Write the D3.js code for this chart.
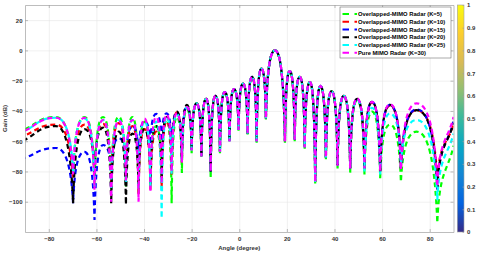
<!DOCTYPE html>
<html>
<head>
<meta charset="utf-8">
<script src="https://cdn.jsdelivr.net/npm/d3@7"></script>
<style>
  body { margin: 0; background: #fff; }
  svg { display: block; font-family: "Liberation Sans", Arial, sans-serif; }
</style>
</head>
<body>
<div id="chart-area"></div>
<script>
// angles of the lobe peaks / nulls (degree)
var angles = [-90,-77,-69.8,-65,-60.8,-57.2,-53.8,-50.6,-47.6,-44.9,-42.3,-39.8,-37.3,-34.9,-32.6,-30.5,-28.4,-26.2,-24.1,-22,
  -20,-17.9,-15.9,-13.9,-12,-10,-8.1,-6.1,-4.1,-2.2,-0.3,1.6,3.5,5.4,7.3,9.3,11.2,15,19.2,21.2,
  23.3,25.4,27.5,29.7,31.9,34.1,36.4,38.8,41.3,43.9,46.6,49.5,52.6,55.8,59.2,63.3,67.9,74.5,83.2,90];

// gain (dB) at those angles, one array per curve
var gainK5 = [-52,-44,-84,-44,-88,-44,-92,-43.8,-90,-44, -95,-47,-90,-50,-88,-46,-101,-44,-81,-39,
  -68,-35,-70,-32,-84.5,-30,-68,-27.5,-61,-25.5, -53,-22,-56,-17.5,-62,-12,-46,0,-61,-13.6,
  -60,-17.4,-65,-21,-88,-23.5,-73,-27,-78,-30.5, -81,-33,-82,-40.5,-84.5,-49,-87,-53.7,-114,-63];
var gainK10 = [-56,-49,-88,-49,-85,-48.5,-90,-48,-88,-50, -95,-52,-92,-53.7,-90,-47,-82,-41,-74,-37,
  -66,-35,-70,-32,-80,-30,-67,-27.5,-60,-25.5, -52.6,-22,-55,-17.5,-60,-12,-45,0,-60,-13.6,
  -59,-17.4,-64,-21,-87,-23.5,-71,-27,-76,-30, -78,-32,-78,-34.5,-80,-36.5,-78,-39.5,-86,-49];
var gainK15 = [-71,-64.5,-101,-67,-112,-62.5,-80,-58,-75,-50, -70,-47,-62,-42,-60,-41.6,-65,-41,-72,-37,
  -66,-35,-70,-32,-80,-30,-67,-27.5,-60,-25.5, -52.6,-22,-55,-17.5,-60,-12,-45,0,-60,-13.6,
  -59,-17.4,-64,-21,-87,-23.5,-71,-27,-76,-30, -78,-32,-78,-34,-80,-36,-78,-39,-92,-47];
var gainK20 = [-59,-50,-101,-52,-82,-51,-101,-53.7,-102,-55, -90,-52,-88,-50,-86,-44,-78,-40.5,-72,-36,
  -66,-35,-70,-32,-80,-30,-67,-27.5,-60,-25.5, -52.6,-22,-55,-17.5,-60,-12,-45,0,-60,-13.6,
  -59,-17.4,-64,-21,-87,-23.5,-71,-27,-76,-30, -78,-32,-78,-34,-80,-36,-78,-39.5,-91,-48];
var gainK25 = [-53,-44.5,-80,-45,-90,-46,-95,-46,-88,-46, -92,-47,-90,-47,-111,-44,-82,-42,-74,-37.5,
  -66,-35,-70,-32,-80,-30,-67,-27.5,-60,-25.5, -52.6,-22,-55,-17.5,-60,-12,-45,0,-60,-13.6,
  -59,-17.4,-64,-21,-87,-23.5,-71,-27,-76,-30, -78,-32.5,-80,-38,-82,-41.6,-75,-46,-99,-55];
var gainK30 = [-53,-44.5,-82,-44.5,-92,-46,-100,-46.5,-86,-46, -100,-45,-94,-44,-88,-42.5,-80,-41.5,-74,-37.5,
  -66,-35,-70,-32,-80,-30,-67,-27.5,-60,-25.5, -52.6,-22,-55,-17.5,-60,-12,-45,0,-60,-13.6,
  -59,-17.4,-64,-21,-87,-23.5,-71,-27,-76,-30, -78,-31.7,-78,-34,-80,-35.5,-79,-35,-90,-44];

var seriesNames = ["Overlapped-MIMO Radar (K=5)", "Overlapped-MIMO Radar (K=10)", "Overlapped-MIMO Radar (K=15)",
  "Overlapped-MIMO Radar (K=20)", "Overlapped-MIMO Radar (K=25)", "Pure MIMO Radar (K=30)"];
var seriesGains = [gainK5, gainK10, gainK15, gainK20, gainK25, gainK30];
var seriesColors = ["#00ff00", "#ff0000", "#0000ff", "#000000", "#00ffff", "#ff00ff"];
var dashOffsets = [0, -2, -4, -6, -4.5, 0];

var xTicks = [-80,-60,-40,-20,0,20,40,60,80];
var yTicks = [-100,-80,-60,-40,-20,0,20];
var cbTicks = [0,0.1,0.2,0.3,0.4,0.5,0.6,0.7,0.8,0.9,1];
// parula colormap stops
var parula = ["#352a87","#0363e1","#1485d4","#06a7c6","#38b99e","#92bf73","#d9ba56","#fcce2e","#f9fb0e"];

var W = 480, H = 253;
var pL = 25, pR = 453.5, pT = 5, pB = 232;

var svg = d3.select("#chart-area").append("svg")
  .attr("width", W).attr("height", H);
svg.append("rect").attr("width", W).attr("height", H).attr("fill", "#fff");

var x = d3.scaleLinear().domain([-90, 90]).range([pL, pR]);
var y = d3.scaleLinear().domain([-120, 30]).range([pB, pT]);

// grid
svg.append("g").attr("transform", "translate(0," + pB + ")")
  .call(d3.axisBottom(x).tickValues(xTicks).tickSize(-(pB - pT)).tickFormat(""))
  .call(function(g){ g.select(".domain").remove(); g.selectAll("line").attr("stroke", "#e6e6e6").attr("stroke-width", 0.6); });
svg.append("g").attr("transform", "translate(" + pL + ",0)")
  .call(d3.axisLeft(y).tickValues(yTicks).tickSize(-(pR - pL)).tickFormat(""))
  .call(function(g){ g.select(".domain").remove(); g.selectAll("line").attr("stroke", "#e6e6e6").attr("stroke-width", 0.6); });

// lobe shaped curve: steep at nulls, flat at peaks
function curveArch(context) {
  var pts;
  return {
    areaStart: function(){}, areaEnd: function(){},
    lineStart: function(){ pts = []; },
    point: function(px, py){ pts.push([+px, +py]); },
    lineEnd: function(){
      var n = pts.length;
      if (!n) return;
      function kind(i) {
        if (i === 0 || i === n - 1) return "end";
        var p = pts[i-1], c = pts[i], q = pts[i+1];
        if (c[1] >= p[1] && c[1] >= q[1]) return "null";
        if (c[1] <= p[1] && c[1] <= q[1]) return "peak";
        return "mid";
      }
      context.moveTo(pts[0][0], pts[0][1]);
      for (var i = 0; i < n - 1; i++) {
        var a = pts[i], b = pts[i+1], dx = b[0]-a[0], dy = b[1]-a[1];
        var ka = kind(i), kb = kind(i+1), c1, c2;
        if (ka === "peak") c1 = [a[0] + 0.55*dx, a[1]];
        else if (ka === "null") c1 = [a[0] + 0.12*dx, a[1] + 0.7*dy];
        else c1 = [a[0] + dx/3, a[1] + dy/3];
        if (kb === "peak") c2 = [b[0] - 0.55*dx, b[1]];
        else if (kb === "null") c2 = [b[0] - 0.12*dx, b[1] - 0.7*dy];
        else c2 = [b[0] - dx/3, b[1] - dy/3];
        context.bezierCurveTo(c1[0], c1[1], c2[0], c2[1], b[0], b[1]);
      }
    }
  };
}

svg.append("clipPath").attr("id", "clip").append("rect")
  .attr("x", pL).attr("y", pT).attr("width", pR - pL).attr("height", pB - pT);

var line = d3.line()
  .x(function(d){ return x(d[0]); })
  .y(function(d){ return y(d[1]); })
  .curve(curveArch);

var plot = svg.append("g").attr("clip-path", "url(#clip)");
seriesGains.forEach(function(g, i){
  plot.append("path")
    .datum(angles.map(function(a, j){ return [a, g[j]]; }))
    .attr("d", line)
    .attr("fill", "none")
    .attr("stroke", seriesColors[i])
    .attr("stroke-width", 2.2)
    .attr("stroke-dasharray", "5,3.5")
    .attr("stroke-dashoffset", dashOffsets[i]);
});

// axes box with inward ticks
var axisColor = "#a0a0a0";
function styleAxis(g) {
  g.select(".domain").attr("stroke", axisColor).attr("stroke-width", 0.7);
  g.selectAll(".tick line").attr("stroke", axisColor).attr("stroke-width", 0.7);
  g.selectAll("text").attr("fill", "#333").attr("font-size", "6px").attr("font-weight", "bold");
}
svg.append("g").attr("transform", "translate(0," + pB + ")")
  .call(d3.axisBottom(x).tickValues(xTicks).tickSizeInner(-3).tickSizeOuter(0).tickPadding(5))
  .call(styleAxis);
svg.append("g").attr("transform", "translate(0," + pT + ")")
  .call(d3.axisTop(x).tickValues(xTicks).tickSizeInner(-3).tickSizeOuter(0).tickFormat(""))
  .call(styleAxis);
svg.append("g").attr("transform", "translate(" + pL + ",0)")
  .call(d3.axisLeft(y).tickValues(yTicks).tickSizeInner(-3).tickSizeOuter(0).tickPadding(2.5))
  .call(styleAxis);
svg.append("g").attr("transform", "translate(" + pR + ",0)")
  .call(d3.axisRight(y).tickValues(yTicks).tickSizeInner(-3).tickSizeOuter(0).tickFormat(""))
  .call(styleAxis);

// axis titles
svg.append("text").attr("x", (pL + pR) / 2).attr("y", 250)
  .attr("text-anchor", "middle").attr("font-size", "6px").attr("font-weight", "bold").attr("fill", "#333")
  .text("Angle (degree)");
svg.append("text").attr("transform", "translate(7," + ((pT + pB) / 2) + ") rotate(-90)")
  .attr("text-anchor", "middle").attr("font-size", "6px").attr("font-weight", "bold").attr("fill", "#333")
  .text("Gain (dB)");

// legend
var lg = svg.append("g");
lg.append("rect").attr("x", 340).attr("y", 7).attr("width", 111).attr("height", 51)
  .attr("fill", "#fff").attr("stroke", "#555").attr("stroke-width", 0.5);
seriesNames.forEach(function(name, i){
  var ly = 14 + i * 7.75;
  lg.append("line").attr("x1", 342.5).attr("x2", 357).attr("y1", ly).attr("y2", ly)
    .attr("stroke", seriesColors[i]).attr("stroke-width", 2.2).attr("stroke-dasharray", "6.5,5.5");
  lg.append("text").attr("x", 358).attr("y", ly).attr("dy", "0.35em")
    .attr("font-size", "5.8px").attr("font-weight", "bold").attr("fill", "#000").text(name);
});

// colorbar
var cbX = 457.3, cbW = 6.7;
var cb = d3.scaleLinear().domain([0, 1]).range([pB, pT]);
var grad = svg.append("defs").append("linearGradient").attr("id", "parula")
  .attr("x1", 0).attr("y1", 1).attr("x2", 0).attr("y2", 0);
parula.forEach(function(c, i){
  grad.append("stop").attr("offset", i / (parula.length - 1)).attr("stop-color", c);
});
svg.append("rect").attr("x", cbX).attr("y", pT).attr("width", cbW).attr("height", pB - pT)
  .attr("fill", "url(#parula)").attr("stroke", axisColor).attr("stroke-width", 0.6);
svg.append("g").attr("transform", "translate(" + (cbX + cbW) + ",0)")
  .call(d3.axisRight(cb).tickValues(cbTicks).tickSizeInner(-1.5).tickSizeOuter(0).tickPadding(3)
    .tickFormat(function(d){ return d3.format("")(d); }))
  .call(styleAxis)
  .call(function(g){ g.select(".domain").remove(); });
</script>
</body>
</html>
